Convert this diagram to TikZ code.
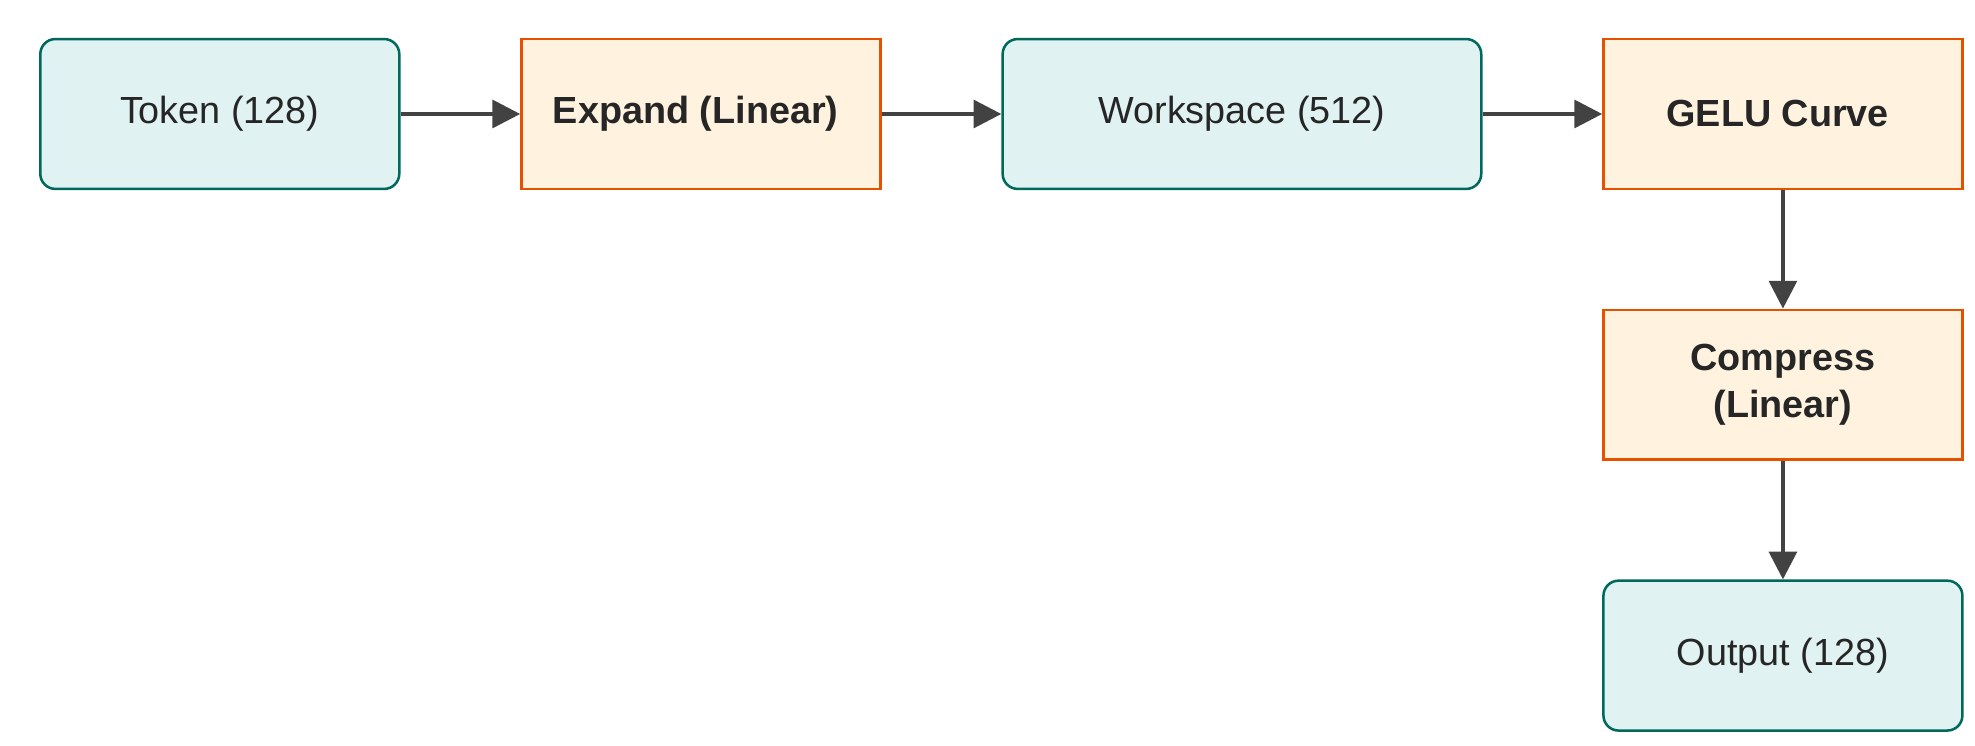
\documentclass[tikz,border=0pt]{standalone}
\usepackage{fontspec}
\setmainfont{Liberation Sans}
\usetikzlibrary{positioning,arrows.meta}
\definecolor{datafill}{HTML}{E0F2F1}
\definecolor{dataline}{HTML}{00695C}
\definecolor{opfill}{HTML}{FFF3E0}
\definecolor{opline}{HTML}{E65100}
\definecolor{arrowgray}{HTML}{424242}
\begin{document}
\begin{tikzpicture}[node distance=47.5pt, font=\fontsize{15}{19}\selectfont,
    data/.style={draw=dataline, fill=datafill, line width=1pt, rounded corners=6pt,
        minimum width=142.5pt, minimum height=59.5pt, text centered, text=black!85},
    op/.style={draw=opline, fill=opfill, line width=1pt,
        minimum width=142.5pt, minimum height=59.5pt, text centered, align=center,
        font=\fontsize{15}{19}\selectfont\bfseries, text=black!85},
    flow/.style={draw=arrowgray, line width=1.5pt, -{Triangle[length=11pt,width=11pt]}}]

    \useasboundingbox (0,0) rectangle (784pt,-296pt);

    \node[data] (Token) at (87.25pt,-45.25pt)
    { Token (128) };

    \node[op, right=of Token] (Expand)
    { Expand (Linear) };

    \node[data, right=of Expand, minimum width=190pt] (Workspace)
    { Workspace (512) };

    \node[op, right=of Workspace] (GELU)
    { GELU Curve };

    \node[op, below=47pt of GELU] (Compress)
    { Compress\\(Linear) };

    \node[data, below=47pt of Compress] (Output)
    { Output (128) };

    % ---------------------------------------------------------

    \draw[flow] (Token) -- (Expand);
    \draw[flow] (Expand) -- (Workspace);
    \draw[flow] (Workspace) -- (GELU);
    \draw[flow] (GELU) -- (Compress);
    \draw[flow] (Compress) -- (Output);
\end{tikzpicture}
\end{document}
